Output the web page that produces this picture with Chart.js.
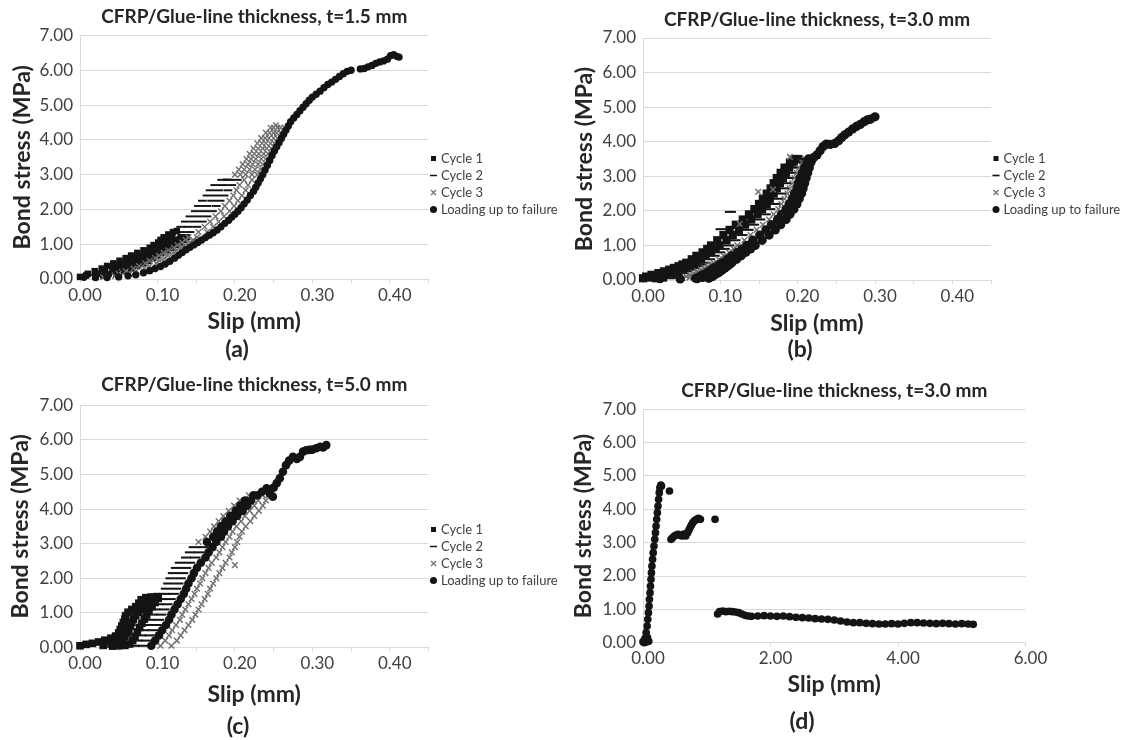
<!DOCTYPE html>
<html lang="en">

<head>
    <meta charset="UTF-8">
    <title>Bond stress vs slip</title>
    <script src="https://cdn.jsdelivr.net/npm/chart.js"></script>
    <style>
        body { margin: 0; background: #fff; }
        #fig { position: relative; width: 1125px; height: 740px; overflow: hidden; }
        #fig canvas { position: absolute; }
        .tag { position: absolute; transform: translate(-50%, -50%); font: bold 23px Lato, sans-serif; color: #262626; }
    </style>
</head>

<body>
    <div id="fig">
        <canvas id="ca" width="565" height="368" style="left:0;top:0"></canvas>
        <canvas id="cb" width="562" height="368" style="left:563px;top:0"></canvas>
        <canvas id="cc" width="565" height="370" style="left:0;top:370px"></canvas>
        <canvas id="cd" width="562" height="370" style="left:563px;top:370px"></canvas>
        <div class="tag" style="left:237px;top:348px">(a)</div>
        <div class="tag" style="left:800px;top:348px">(b)</div>
        <div class="tag" style="left:238px;top:725px">(c)</div>
        <div class="tag" style="left:802px;top:720px">(d)</div>
    </div>
    <script>
        // slip (mm), bond stress (MPa)
        const seriesNames = ['Cycle 1', 'Cycle 2', 'Cycle 3', 'Loading up to failure'];
        const yTicks = [0, 1, 2, 3, 4, 5, 6, 7];

        // ---- (a) t = 1.5 mm
        const aCycle1 = [
            [0.010,0.15],[0.028,0.30],[0.043,0.45],[0.059,0.60],[0.074,0.75],[0.090,0.90],[0.101,1.05],[0.108,1.20],[0.120,1.35],
            [0.019,0.225],[0.035,0.375],[0.051,0.525],[0.066,0.675],[0.082,0.825],[0.095,0.975],[0.104,1.125],
            [0.023,0.15],[0.042,0.30],[0.057,0.45],[0.072,0.60],[0.085,0.75],[0.100,0.90],[0.111,1.05],[0.119,1.20],
            [0.032,0.225],[0.049,0.375],[0.064,0.525],[0.078,0.675],[0.092,0.825],[0.105,0.975],[0.115,1.125],
            [0.037,0.15],[0.056,0.30],[0.071,0.45],[0.084,0.60],[0.097,0.75],[0.110,0.90],[0.121,1.05],[0.130,1.20],
            [0.046,0.225],[0.063,0.375],[0.077,0.525],[0.090,0.675],[0.103,0.825],[0.115,0.975],[0.125,1.125],
            [0.047,0.15],[0.066,0.30],[0.081,0.45],[0.094,0.60],[0.105,0.75],[0.118,0.90],[0.129,1.05],[0.138,1.20],
            [0.057,0.225],[0.074,0.375],[0.088,0.525],[0.100,0.675],[0.112,0.825],[0.124,0.975],[0.134,1.125],
            [0.000,0.06],[0.008,0.10],[0.020,0.06],[0.030,0.10],[0.125,1.38],[0.114,1.28]
        ];
        const aCycle2 = [
            [0.130,1.50],[0.136,1.65],[0.142,1.80],[0.149,1.95],[0.153,2.10],[0.158,2.25],[0.164,2.40],[0.168,2.55],[0.174,2.70],[0.183,2.85],
            [0.131,1.35],[0.140,1.50],[0.147,1.65],[0.153,1.80],[0.160,1.95],[0.164,2.10],[0.170,2.25],[0.175,2.40],[0.179,2.55],[0.185,2.70],[0.193,2.85],
            [0.037,0.15],[0.056,0.30],[0.071,0.45],[0.084,0.60],[0.097,0.75],[0.110,0.90],[0.121,1.05],[0.130,1.20],[0.142,1.35],[0.151,1.50],
            [0.158,1.65],[0.164,1.80],[0.171,1.95],[0.176,2.10],[0.181,2.25],[0.186,2.40],[0.191,2.55],[0.196,2.70],[0.203,2.85],
            [0.046,0.225],[0.063,0.375],[0.077,0.525],[0.090,0.675],[0.103,0.825],[0.115,0.975],[0.125,1.125],
            [0.190,2.86],[0.005,0.08],[0.012,0.12]
        ];
        const aCycle3 = [
            [0.200,3.00],[0.205,3.15],[0.210,3.30],[0.215,3.45],[0.219,3.60],[0.224,3.75],[0.229,3.90],[0.234,4.05],[0.240,4.20],[0.246,4.35],
            [0.207,3.00],[0.212,3.15],[0.217,3.30],[0.221,3.45],[0.225,3.60],[0.230,3.75],[0.235,3.90],[0.239,4.05],[0.245,4.20],[0.250,4.35],
            [0.214,3.00],[0.219,3.15],[0.223,3.30],[0.227,3.45],[0.231,3.60],[0.236,3.75],[0.240,3.90],[0.244,4.05],[0.250,4.20],[0.255,4.35],
            [0.050,0.15],[0.069,0.30],[0.084,0.45],[0.097,0.60],[0.108,0.75],[0.121,0.90],[0.132,1.05],[0.140,1.20],[0.153,1.35],[0.161,1.50],
            [0.168,1.65],[0.175,1.80],[0.182,1.95],[0.187,2.10],[0.193,2.25],[0.198,2.40],[0.202,2.55],[0.206,2.70],[0.212,2.85],[0.222,3.00],
            [0.226,3.15],[0.230,3.30],[0.234,3.45],[0.237,3.60],[0.241,3.75],[0.246,3.90],[0.250,4.05],[0.254,4.20],[0.259,4.35],
            [0.059,0.225],[0.076,0.375],[0.090,0.525],[0.102,0.675],[0.114,0.825],[0.126,0.975],[0.136,1.125],
            [0.064,0.15],[0.083,0.30],[0.098,0.45],[0.109,0.60],[0.120,0.75],[0.131,0.90],[0.142,1.05],[0.151,1.20],[0.164,1.35],[0.172,1.50],
            [0.179,1.65],[0.186,1.80],[0.193,1.95],[0.199,2.10],[0.204,2.25],[0.209,2.40],[0.214,2.55],[0.217,2.70],[0.222,2.85],[0.229,3.00],
            [0.233,3.15],[0.236,3.30],[0.240,3.45],[0.243,3.60],[0.247,3.75],[0.251,3.90],[0.255,4.05],[0.259,4.20],[0.264,4.35],
            [0.073,0.225],[0.090,0.375],[0.103,0.525],[0.114,0.675],[0.125,0.825],[0.136,0.975],[0.146,1.125],
            [0.253,4.42],[0.030,0.05],[0.045,0.08]
        ];
        const aLoading = [
            [0.005,0.05],[0.020,0.04],[0.035,0.04],[0.050,0.06],[0.062,0.09],[0.072,0.12],[0.082,0.18],[0.090,0.24],[0.097,0.30],[0.104,0.36],
            [0.110,0.43],[0.116,0.51],[0.122,0.60],[0.127,0.68],[0.132,0.76],[0.137,0.84],[0.142,0.91],[0.147,0.98],[0.152,1.05],[0.157,1.12],
            [0.162,1.19],[0.167,1.26],[0.172,1.33],[0.177,1.41],[0.182,1.50],[0.187,1.60],[0.192,1.69],[0.196,1.78],[0.200,1.86],[0.204,1.95],
            [0.208,2.05],[0.212,2.16],[0.216,2.27],[0.220,2.40],[0.224,2.52],[0.227,2.64],[0.230,2.76],[0.233,2.88],[0.236,3.00],[0.239,3.13],
            [0.242,3.27],[0.245,3.41],[0.248,3.55],[0.251,3.68],[0.254,3.80],[0.257,3.92],[0.260,4.04],[0.263,4.16],[0.266,4.28],[0.269,4.40],
            [0.272,4.52],[0.276,4.63],[0.280,4.73],[0.284,4.84],[0.288,4.94],[0.292,5.04],[0.296,5.14],[0.300,5.23],[0.305,5.31],[0.310,5.40],
            [0.315,5.50],[0.320,5.59],[0.325,5.66],[0.330,5.74],[0.335,5.82],[0.340,5.90],[0.345,5.97],[0.350,6.00],[0.362,6.04],[0.367,6.05],
            [0.372,6.10],[0.377,6.14],[0.382,6.20],[0.387,6.24],[0.392,6.27],[0.397,6.32],[0.401,6.42],[0.405,6.45],[0.409,6.40],[0.412,6.38]
        ];

        // ---- (b) t = 3.0 mm
        const bCycle1 = [
            [0.000,0.05],[0.004,0.10],[0.020,0.20],[0.034,0.30],[0.046,0.40],[0.056,0.50],[0.063,0.60],[0.069,0.70],[0.077,0.80],[0.083,0.90],
            [0.088,1.00],[0.096,1.15],[0.104,1.30],[0.112,1.45],[0.120,1.60],[0.129,1.75],[0.137,1.90],[0.144,2.05],[0.150,2.20],[0.155,2.35],
            [0.160,2.50],[0.165,2.65],[0.169,2.80],[0.173,2.95],[0.178,3.10],[0.183,3.25],[0.190,3.40],[0.196,3.50],
            [0.017,0.05],[0.021,0.10],[0.035,0.20],[0.048,0.30],[0.059,0.40],[0.068,0.50],[0.075,0.60],[0.081,0.70],[0.088,0.80],[0.094,0.90],
            [0.099,1.00],[0.108,1.15],[0.116,1.30],[0.124,1.45],[0.132,1.60],[0.140,1.75],[0.148,1.90],[0.154,2.05],[0.160,2.20],[0.164,2.35],
            [0.169,2.50],[0.173,2.65],[0.177,2.80],[0.181,2.95],[0.185,3.10],[0.189,3.25],[0.195,3.40],[0.201,3.50],
            [0.011,0.15],[0.027,0.25],[0.040,0.35],[0.051,0.45],[0.028,0.15],[0.041,0.25],[0.053,0.35],[0.063,0.45],[0.009,0.07],[0.026,0.07]
        ];
        const bCycle2 = [
            [0.034,0.05],[0.038,0.10],[0.051,0.20],[0.062,0.30],[0.071,0.40],[0.080,0.50],[0.086,0.60],[0.092,0.70],[0.099,0.80],[0.105,0.90],
            [0.111,1.00],[0.119,1.15],[0.128,1.30],[0.136,1.45],[0.143,1.60],[0.151,1.75],[0.158,1.90],[0.164,2.05],[0.170,2.20],[0.174,2.35],
            [0.178,2.50],[0.182,2.65],[0.185,2.80],[0.188,2.95],[0.192,3.10],[0.196,3.25],[0.201,3.40],[0.205,3.50],
            [0.044,0.15],[0.056,0.25],[0.066,0.35],[0.075,0.45],[0.043,0.07],[0.113,1.97],[0.101,1.47]
        ];
        const bCycle3 = [
            [0.051,0.05],[0.056,0.10],[0.066,0.20],[0.075,0.30],[0.084,0.40],[0.091,0.50],[0.098,0.60],[0.104,0.70],[0.111,0.80],[0.117,0.90],
            [0.122,1.00],[0.131,1.15],[0.139,1.30],[0.147,1.45],[0.155,1.60],[0.163,1.75],[0.169,1.90],[0.175,2.05],[0.179,2.20],[0.183,2.35],
            [0.187,2.50],[0.190,2.65],[0.193,2.80],[0.196,2.95],[0.199,3.10],[0.202,3.25],[0.206,3.40],[0.210,3.50],
            [0.061,0.15],[0.070,0.25],[0.079,0.35],[0.087,0.45],[0.060,0.07],
            [0.190,3.56],[0.149,2.55],[0.091,0.14],[0.101,0.27],[0.094,0.20],[0.189,2.12],[0.125,1.62],[0.168,2.62]
        ];
        const bLoading = [
            [0.068,0.05],[0.073,0.10],[0.082,0.20],[0.089,0.30],[0.096,0.40],[0.103,0.50],[0.109,0.60],[0.115,0.70],[0.122,0.80],[0.128,0.90],
            [0.134,1.00],[0.142,1.15],[0.151,1.30],[0.159,1.45],[0.166,1.60],[0.174,1.75],[0.179,1.90],[0.185,2.05],[0.189,2.20],[0.193,2.35],
            [0.196,2.50],[0.199,2.65],[0.201,2.80],[0.203,2.95],[0.206,3.10],[0.209,3.25],[0.212,3.40],[0.214,3.50],
            [0.085,0.05],[0.090,0.10],[0.097,0.20],[0.103,0.30],[0.109,0.40],[0.115,0.50],[0.121,0.60],[0.127,0.70],[0.133,0.80],[0.139,0.90],
            [0.145,1.00],[0.154,1.15],[0.163,1.30],[0.171,1.45],[0.178,1.60],[0.185,1.75],[0.190,1.90],[0.195,2.05],[0.199,2.20],[0.202,2.35],
            [0.205,2.50],[0.207,2.65],[0.209,2.80],[0.211,2.95],[0.213,3.10],[0.215,3.25],[0.217,3.40],[0.219,3.50],
            [0.077,0.15],[0.085,0.25],[0.092,0.35],[0.099,0.45],[0.093,0.15],[0.100,0.25],[0.106,0.35],[0.112,0.45],
            [0.077,0.07],[0.022,0.04],[0.048,0.03],[0.070,0.04],
            [0.221,3.55],[0.225,3.62],[0.229,3.74],[0.233,3.86],[0.237,3.93],[0.242,3.92],[0.248,3.95],[0.253,4.03],[0.257,4.12],[0.261,4.20],
            [0.266,4.28],[0.271,4.37],[0.276,4.44],[0.281,4.50],[0.286,4.58],[0.290,4.63],[0.294,4.65],[0.300,4.72]
        ];

        // ---- (c) t = 5.0 mm
        const cCycle1 = [
            [0.000,0.05],[0.008,0.09],[0.016,0.12],[0.024,0.16],[0.032,0.21],[0.040,0.27],[0.046,0.33],[0.050,0.42],[0.052,0.52],[0.054,0.62],
            [0.056,0.72],[0.058,0.82],[0.059,0.92],[0.062,1.02],[0.067,1.10],[0.072,1.18],[0.076,1.28],[0.079,1.38],[0.085,1.44],[0.092,1.46],[0.099,1.47],
            [0.030,0.06],[0.040,0.10],[0.048,0.15],[0.055,0.22],[0.058,0.32],[0.061,0.42],[0.063,0.52],[0.065,0.62],[0.067,0.72],[0.069,0.82],
            [0.072,0.92],[0.076,1.02],[0.080,1.12],[0.084,1.22],[0.088,1.32],[0.092,1.40],
            [0.042,0.04],[0.050,0.05],[0.058,0.06],[0.064,0.10],[0.068,0.20],[0.071,0.32],[0.074,0.45],[0.077,0.58],[0.080,0.70],[0.083,0.82],
            [0.086,0.94],[0.089,1.06],[0.093,1.18],[0.097,1.30],[0.101,1.42]
        ];
        const cCycle2 = [
            [0.071,0.05],[0.074,0.20],[0.079,0.35],[0.083,0.50],[0.087,0.65],[0.090,0.80],[0.093,0.95],[0.097,1.10],[0.101,1.25],[0.105,1.40],
            [0.109,1.55],[0.111,1.70],[0.114,1.85],[0.117,2.00],[0.120,2.15],[0.124,2.30],[0.129,2.45],[0.137,2.60],[0.142,2.75],[0.147,2.90],
            [0.081,0.05],[0.085,0.20],[0.090,0.35],[0.094,0.50],[0.099,0.65],[0.102,0.80],[0.105,0.95],[0.109,1.10],[0.113,1.25],[0.117,1.40],
            [0.121,1.55],[0.124,1.70],[0.127,1.85],[0.130,2.00],[0.133,2.15],[0.137,2.30],[0.142,2.45],[0.149,2.60],[0.154,2.75],[0.159,2.90]
        ];
        const cCycle3 = [
            [0.153,3.05],[0.162,3.20],[0.168,3.35],[0.173,3.50],[0.179,3.65],[0.185,3.80],[0.192,3.95],[0.199,4.10],[0.206,4.25],[0.218,4.40],
            [0.104,0.05],[0.110,0.20],[0.115,0.35],[0.119,0.50],[0.124,0.65],[0.129,0.80],[0.132,0.95],[0.136,1.10],[0.140,1.25],[0.144,1.40],
            [0.148,1.55],[0.151,1.70],[0.155,1.85],[0.158,2.00],[0.162,2.15],[0.166,2.30],[0.170,2.45],[0.176,2.60],[0.180,2.75],[0.184,2.90],
            [0.188,3.05],[0.193,3.20],[0.197,3.35],[0.202,3.50],[0.208,3.65],[0.213,3.80],[0.219,3.95],[0.225,4.10],[0.230,4.25],[0.236,4.40],
            [0.118,0.05],[0.125,0.20],[0.130,0.35],[0.135,0.50],[0.140,0.65],[0.145,0.80],[0.149,0.95],[0.153,1.10],[0.157,1.25],[0.161,1.40],
            [0.165,1.55],[0.168,1.70],[0.172,1.85],[0.176,2.00],[0.180,2.15],[0.184,2.30],[0.188,2.45],[0.193,2.60],[0.196,2.75],[0.200,2.90],
            [0.203,3.05],[0.206,3.20],[0.209,3.35],[0.214,3.50],[0.220,3.65],[0.225,3.80],[0.231,3.95],[0.236,4.10],[0.240,4.25],[0.243,4.40],
            [0.200,2.38]
        ];
        const cLoading = [
            [0.164,3.05],[0.172,3.20],[0.177,3.35],[0.182,3.50],[0.188,3.65],[0.194,3.80],[0.201,3.95],[0.207,4.10],[0.213,4.25],[0.224,4.40],
            [0.092,0.05],[0.097,0.20],[0.102,0.35],[0.106,0.50],[0.111,0.65],[0.115,0.80],[0.118,0.95],[0.122,1.10],[0.126,1.25],[0.130,1.40],
            [0.134,1.55],[0.137,1.70],[0.140,1.85],[0.144,2.00],[0.147,2.15],[0.151,2.30],[0.156,2.45],[0.162,2.60],[0.166,2.75],[0.171,2.90],
            [0.176,3.05],[0.182,3.20],[0.186,3.35],[0.191,3.50],[0.197,3.65],[0.203,3.80],[0.210,3.95],[0.216,4.10],[0.221,4.25],[0.229,4.40],
            [0.235,4.50],[0.241,4.60],[0.245,4.45],[0.249,4.36],[0.250,4.62],[0.254,4.75],[0.258,4.89],[0.262,5.08],[0.266,5.27],[0.270,5.40],
            [0.275,5.51],[0.280,5.45],[0.284,5.51],[0.288,5.66],[0.292,5.70],[0.296,5.71],[0.300,5.72],[0.305,5.76],[0.310,5.80],[0.314,5.78],[0.318,5.85]
        ];

        // ---- (d) t = 3.0 mm, full range
        const dLoading = [
            [0.000,0.03],[0.020,0.00],[0.050,0.02],[0.090,0.04],[0.030,0.12],[0.070,0.15],[0.050,0.30],[0.065,0.50],[0.075,0.70],[0.085,0.90],
            [0.095,1.10],[0.100,1.30],[0.110,1.50],[0.117,1.70],[0.125,1.90],[0.132,2.10],[0.140,2.30],[0.150,2.50],[0.160,2.70],[0.172,2.90],
            [0.185,3.10],[0.195,3.30],[0.205,3.50],[0.215,3.70],[0.225,3.90],[0.235,4.10],[0.245,4.30],[0.255,4.50],[0.265,4.65],[0.280,4.73],[0.290,4.70],
            [0.415,4.55],
            [0.440,3.10],[0.460,3.14],[0.490,3.20],[0.520,3.23],[0.550,3.25],[0.580,3.22],[0.610,3.20],[0.640,3.26],[0.670,3.20],[0.700,3.30],
            [0.720,3.38],[0.740,3.46],[0.760,3.53],[0.780,3.60],[0.810,3.66],[0.840,3.70],[0.870,3.73],[0.900,3.70],
            [1.130,3.70],
            [1.17,0.86],[1.20,0.93],[1.25,0.95],[1.30,0.93],[1.35,0.94],[1.40,0.93],[1.45,0.92],[1.50,0.90],[1.55,0.86],[1.60,0.82],
            [1.65,0.80],[1.70,0.79],[1.80,0.80],[1.90,0.81],[2.00,0.80],[2.10,0.79],[2.20,0.80],[2.30,0.78],[2.40,0.76],[2.50,0.75],
            [2.60,0.74],[2.70,0.72],[2.80,0.71],[2.90,0.70],[3.00,0.68],[3.10,0.65],[3.20,0.62],[3.30,0.60],[3.40,0.60],[3.50,0.58],
            [3.60,0.57],[3.70,0.56],[3.80,0.56],[3.90,0.57],[4.00,0.56],[4.10,0.58],[4.20,0.60],[4.30,0.60],[4.40,0.59],[4.50,0.58],
            [4.60,0.57],[4.70,0.58],[4.80,0.57],[4.90,0.56],[5.00,0.57],[5.10,0.56],[5.18,0.55]
        ];

        Chart.defaults.font.family = 'Lato, "Open Sans", sans-serif';
        Chart.defaults.color = '#404040';

        // keep the legend column at a fixed width so the plot area lands where it should
        const fixLegendWidth = {
            id: 'fixLegendWidth',
            beforeLayout(chart, args, opts) {
                const lg = chart.legend;
                if (!lg || lg._fixedFit || !opts.width) return;
                const fit = lg.fit;
                lg.fit = function () { fit.call(this); this.width = opts.width; };
                lg._fixedFit = true;
            }
        };

        const pts = arr => arr.map(([x, y]) => ({ x, y }));
        const ink = '#141414';
        const styles = [
            { pointStyle: 'rect', pointRadius: 4, pointBackgroundColor: ink, pointBorderColor: ink, pointBorderWidth: 0 },
            { pointStyle: 'line', pointRadius: 3.8, pointBackgroundColor: ink, pointBorderColor: ink, pointBorderWidth: 1.7 },
            { pointStyle: 'crossRot', pointRadius: 3.6, pointBackgroundColor: '#6e6e6e', pointBorderColor: '#6e6e6e', pointBorderWidth: 1.2 },
            { pointStyle: 'circle', pointRadius: 3.2, pointBackgroundColor: ink, pointBorderColor: ink, pointBorderWidth: 0 }
        ];

        function panel(id, p) {
            const datasets = p.series.map((s, i) => {
                const k = p.names[i];
                const st = styles[k];
                const grow = k === 2 ? Math.min(p.size, 1.1) : p.size;
                return Object.assign({
                    label: seriesNames[k],
                    data: pts(s),
                    clip: false,
                    order: 3 - k,          // later series on top, as in the original
                    pointHoverRadius: 0
                }, st, {
                    pointRadius: st.pointRadius * grow,
                    pointBorderWidth: st.pointBorderWidth * Math.min(p.size, 1.2)
                });
            });

            new Chart(document.getElementById(id), {
                type: 'scatter',
                data: { datasets },
                plugins: [fixLegendWidth],
                options: {
                    responsive: false,
                    animation: false,
                    events: [],
                    layout: { padding: { left: 0, top: 0, bottom: 0, right: p.padRight } },
                    plugins: {
                        title: {
                            display: true, text: p.title, fullSize: false, color: '#262626',
                            font: { size: 19, weight: 'bold' }, padding: { top: p.tTop, bottom: p.tBottom }
                        },
                        legend: {
                            display: p.legend, position: 'right', align: 'center',
                            labels: {
                                usePointStyle: true, boxWidth: 2, boxHeight: 5, padding: 4, color: '#404040', font: { size: 13 },
                                generateLabels: chart => chart.data.datasets.map((ds, i) => ({
                                    text: ds.label, datasetIndex: i, pointStyle: styles[i].pointStyle,
                                    fillStyle: styles[i].pointBackgroundColor, strokeStyle: styles[i].pointBorderColor,
                                    lineWidth: styles[i].pointBorderWidth, fontColor: '#404040'
                                }))
                            }
                        },
                        fixLegendWidth: { width: p.legendWidth },
                        tooltip: { enabled: false }
                    },
                    scales: {
                        x: {
                            type: 'linear', min: 0, max: p.xMax,
                            afterFit: s => { s.height = p.xHeight; },
                            ticks: {
                                stepSize: p.xStep, autoSkip: false, maxRotation: 0, padding: 2, labelOffset: 5,
                                color: '#404040', font: { size: 17 },
                                callback: (v, i) => (i % p.labelEvery ? '' : Number(v).toFixed(2))
                            },
                            grid: { drawOnChartArea: false, drawTicks: true, tickLength: 4, color: '#d9d9d9' },
                            border: { color: '#d9d9d9' },
                            title: {
                                display: true, text: 'Slip (mm)', color: '#262626',
                                font: { size: 23, weight: 'bold' }, padding: { top: 0, bottom: p.xtPad }
                            }
                        },
                        y: {
                            min: 0, max: 7,
                            afterFit: s => { s.width = 80; },
                            afterBuildTicks: s => { s.ticks = yTicks.map(v => ({ value: v })); },
                            ticks: { padding: 7, color: '#404040', font: { size: 17 }, callback: v => Number(v).toFixed(2) },
                            grid: { drawTicks: false, color: '#d9d9d9' },
                            border: { color: '#d9d9d9' },
                            title: {
                                display: true, text: 'Bond stress (MPa)', color: '#262626',
                                font: { size: 23, weight: 'bold' }, padding: { top: p.ytPad, bottom: 0 }
                            }
                        }
                    }
                }
            });
        }

        panel('ca', {
            title: 'CFRP/Glue-line thickness, t=1.5 mm', series: [aCycle1, aCycle2, aCycle3, aLoading], names: [0, 1, 2, 3], size: 1.15,
            tTop: 5.9, tBottom: 6.8, legend: true, legendWidth: 136.5, padRight: 0,
            xMax: 0.45, xStep: 0.05, labelEvery: 2, xHeight: 89, xtPad: 32.2, ytPad: 8.9
        });
        panel('cb', {
            title: 'CFRP/Glue-line thickness, t=3.0 mm', series: [bCycle1, bCycle2, bCycle3, bLoading], names: [0, 1, 2, 3], size: 1.45,
            tTop: 8.6, tBottom: 6.6, legend: true, legendWidth: 134, padRight: 0,
            xMax: 0.45, xStep: 0.05, labelEvery: 2, xHeight: 88, xtPad: 30.2, ytPad: 7.5
        });
        panel('cc', {
            title: 'CFRP/Glue-line thickness, t=5.0 mm', series: [cCycle1, cCycle2, cCycle3, cLoading], names: [0, 1, 2, 3], size: 1.35,
            tTop: 3.6, tBottom: 8.9, legend: true, legendWidth: 136.5, padRight: 0,
            xMax: 0.45, xStep: 0.05, labelEvery: 2, xHeight: 92.5, xtPad: 31.2, ytPad: 7.2
        });
        panel('cd', {
            title: 'CFRP/Glue-line thickness, t=3.0 mm', series: [dLoading], names: [3], size: 1.2,
            tTop: 9.3, tBottom: 7.2, legend: false, legendWidth: 0, padRight: 99.5,
            xMax: 6, xStep: 2, labelEvery: 1, xHeight: 97.3, xtPad: 41.2, ytPad: 6.6
        });
    </script>
</body>

</html>
